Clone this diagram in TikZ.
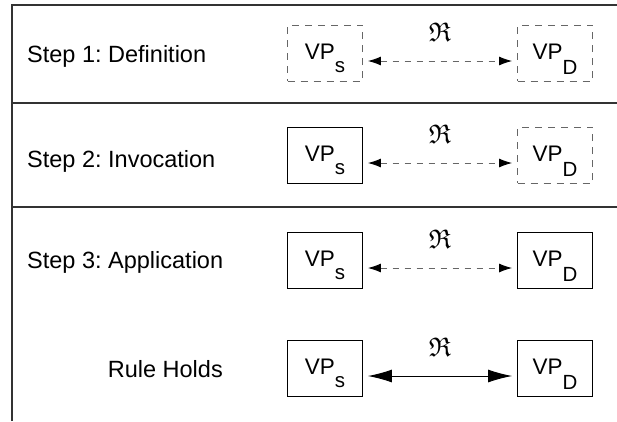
\documentclass[tikz,border=0pt]{standalone}
\usepackage{amssymb}
\usepackage{fontspec}
\setmainfont{Liberation Sans}
\usetikzlibrary{arrows.meta}
\frenchspacing
\newcommand{\subfont}{\fontsize{20.5}{24}\selectfont}
\newcommand{\vps}{VP\raisebox{-13pt}{\subfont s}}
\newcommand{\vpd}{VP\raisebox{-15pt}{\subfont D}}
\tikzset{vpbox/.style={draw=black,line width=0.9pt,minimum width=75pt,minimum height=56pt,
   inner sep=0pt,text height=27pt,text depth=15pt,font=\fontsize{22.5}{27}\selectfont},
 ghost/.style={vpbox,draw=black!60,dash pattern=on 7pt off 6pt},
 rel/.style={black!60,line width=0.9pt,dash pattern=on 6pt off 6pt,shorten <=5pt,shorten >=5pt,
   {Latex[length=13pt,width=9pt,color=black]}-{Latex[length=13pt,width=9pt,color=black]}},
 holds/.style={black,line width=0.9pt,shorten <=5pt,shorten >=5pt,
   {Latex[length=24pt,width=13pt]}-{Latex[length=24pt,width=13pt]}},
 rname/.style={text=black,font=\fontsize{20.74}{24}\selectfont,scale=1.3,yshift=22pt},
 steplabel/.style={anchor=west,inner sep=0pt},
 frame/.style={black!80,line width=1.2pt},
 }

\begin{document}
\begin{tikzpicture}[x=1pt,y=-1pt,font=\fontsize{23.5}{28}\selectfont]
        \useasboundingbox (0,0) rectangle (617,421);
        % frame
        \draw[frame] (12,421) -- (12,5) -- (617,5);
        \draw[frame] (12,103) -- (617,103);
        \draw[frame] (12,207) -- (617,207);
        % step 1
        \node[steplabel] (l1) at (27,56) {Step 1: Definition};
        \node[ghost] (s1) at (325,53) {\vps};
        \node[ghost] (d1) at (555,53) {\vpd};
        \draw[rel] ([yshift=-8pt]s1.east) -- node[rname] (r1) {$\mathfrak{R}$} ([yshift=-8pt]d1.west);
        % step 2
        \node[steplabel] (l2) at (27,161) {Step 2: Invocation};
        \node[vpbox] (s2) at (325,155) {\vps};
        \node[ghost] (d2) at (555,155) {\vpd};
        \draw[rel] ([yshift=-8pt]s2.east) -- node[rname] (r2) {$\mathfrak{R}$} ([yshift=-8pt]d2.west);
        % step 3
        \node[steplabel] (l3) at (27,262) {Step 3: Application};
        \node[vpbox] (s3) at (325,260) {\vps};
        \node[vpbox] (d3) at (555,260) {\vpd};
        \draw[rel] ([yshift=-8pt]s3.east) -- node[rname] (r3) {$\mathfrak{R}$} ([yshift=-8pt]d3.west);
        % result
        \node[steplabel,anchor=east] (l4) at (223,369) {Rule Holds};
        \node[vpbox] (s4) at (325,368) {\vps};
        \node[vpbox] (d4) at (555,368) {\vpd};
        \draw[holds] ([yshift=-8pt]s4.east) -- node[rname] (r4) {$\mathfrak{R}$} ([yshift=-8pt]d4.west);
    \end{tikzpicture}
\end{document}
